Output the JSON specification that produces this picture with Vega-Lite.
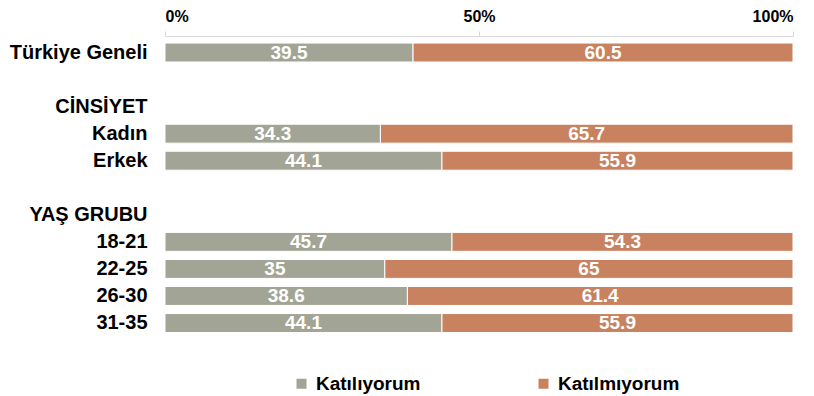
{
  "$schema": "https://vega.github.io/schema/vega-lite/v6.json",
  "width": 628,
  "height": 297.55,
  "autosize": {"type": "none"},
  "padding": {"left": 165, "top": 39, "right": 21, "bottom": 59},
  "background": "white",
  "config": {"view": {"stroke": null}, "font": "Liberation Sans"},
  "data": {
    "values": [
      {"cat": "Türkiye Geneli", "grp": "Katılıyorum", "ord": 1, "value": 39.5},
      {"cat": "Türkiye Geneli", "grp": "Katılmıyorum", "ord": 2, "value": 60.5},
      {"cat": "Kadın", "grp": "Katılıyorum", "ord": 1, "value": 34.3},
      {"cat": "Kadın", "grp": "Katılmıyorum", "ord": 2, "value": 65.7},
      {"cat": "Erkek", "grp": "Katılıyorum", "ord": 1, "value": 44.1},
      {"cat": "Erkek", "grp": "Katılmıyorum", "ord": 2, "value": 55.9},
      {"cat": "18-21", "grp": "Katılıyorum", "ord": 1, "value": 45.7},
      {"cat": "18-21", "grp": "Katılmıyorum", "ord": 2, "value": 54.3},
      {"cat": "22-25", "grp": "Katılıyorum", "ord": 1, "value": 35},
      {"cat": "22-25", "grp": "Katılmıyorum", "ord": 2, "value": 65},
      {"cat": "26-30", "grp": "Katılıyorum", "ord": 1, "value": 38.6},
      {"cat": "26-30", "grp": "Katılmıyorum", "ord": 2, "value": 61.4},
      {"cat": "31-35", "grp": "Katılıyorum", "ord": 1, "value": 44.1},
      {"cat": "31-35", "grp": "Katılmıyorum", "ord": 2, "value": 55.9}
    ]
  },
  "transform": [
    {"stack": "value", "groupby": ["cat"], "sort": [{"field": "ord", "order": "ascending"}], "as": ["v0", "v1"]},
    {"calculate": "(datum.v0 + datum.v1) / 2", "as": "mid"}
  ],
  "encoding": {
    "y": {
      "field": "cat",
      "type": "nominal",
      "title": null,
      "scale": {
        "domain": ["Türkiye Geneli", " ", "CİNSİYET", "Kadın", "Erkek", "  ", "YAŞ GRUBU", "18-21", "22-25", "26-30", "31-35"],
        "paddingInner": 0.3,
        "paddingOuter": 0.15
      },
      "axis": {
        "domain": false,
        "ticks": false,
        "labelPadding": 18,
        "labelFontSize": 20,
        "labelFontWeight": "bold",
        "labelColor": "#000000",
        "labelFont": "Liberation Sans"
      }
    }
  },
  "layer": [
    {
      "mark": {"type": "bar", "stroke": "white", "strokeWidth": 1},
      "encoding": {
        "x": {
          "field": "v0",
          "type": "quantitative",
          "scale": {"domain": [0, 100]},
          "title": null,
          "axis": {
            "orient": "top",
            "values": [0, 50, 100],
            "labelExpr": "datum.value + '%'",
            "grid": false,
            "offset": 3,
            "domainColor": "#d9d9d9",
            "tickColor": "#d9d9d9",
            "tickSize": 5,
            "labelPadding": 6,
            "labelFontSize": 16,
            "labelFontWeight": "bold",
            "labelColor": "#000000",
            "labelFont": "Liberation Sans"
          }
        },
        "x2": {"field": "v1"},
        "color": {
          "field": "grp",
          "type": "nominal",
          "scale": {"domain": ["Katılıyorum", "Katılmıyorum"], "range": ["#A2A595", "#C9825F"]},
          "legend": {
            "title": null,
            "orient": "none",
            "direction": "horizontal",
            "legendX": 127,
            "legendY": 335,
            "symbolType": "square",
            "symbolSize": 100,
            "symbolStrokeWidth": 0,
            "labelOffset": 5,
            "labelFontSize": 19,
            "labelFontWeight": "bold",
            "labelColor": "#000000",
            "labelFont": "Liberation Sans",
            "columnPadding": 113,
            "labelLimit": 300
          }
        }
      }
    },
    {
      "mark": {"type": "text", "color": "white", "fontSize": 19, "fontWeight": "bold", "font": "Liberation Sans", "baseline": "middle", "align": "center"},
      "encoding": {
        "x": {"field": "mid", "type": "quantitative"},
        "text": {"field": "value", "type": "quantitative"}
      }
    }
  ]
}
